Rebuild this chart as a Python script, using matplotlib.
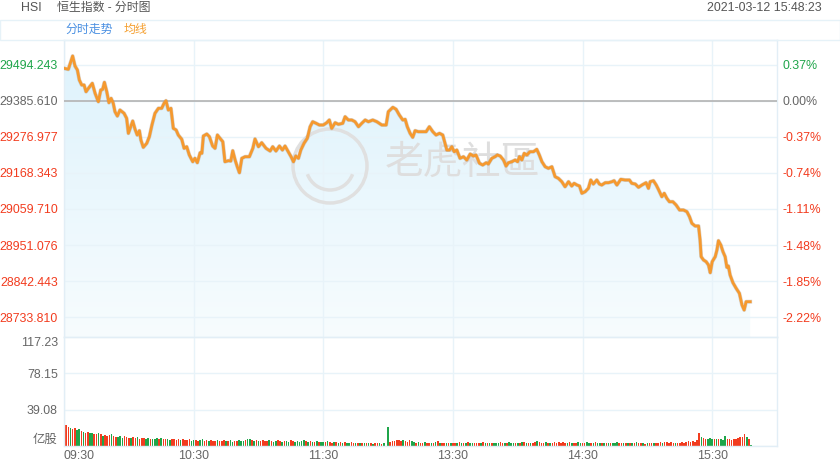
import numpy as np
import matplotlib
matplotlib.use('Agg')
import matplotlib.pyplot as plt
from matplotlib.patches import Circle, Arc, Rectangle
from matplotlib.colors import LinearSegmentedColormap

plt.rcParams['font.family'] = ['Liberation Sans', 'Noto Sans CJK SC', 'DejaVu Sans']

prev_close = 29385.610
price_ticks = [29494.243, 29385.610, 29276.977, 29168.343, 29059.710, 28951.076, 28842.443, 28733.810]
price_labels = ['29494.243', '29385.610', '29276.977', '29168.343', '29059.710', '28951.076', '28842.443', '28733.810']
pct_labels = ['0.37%', '0.00%', '-0.37%', '-0.74%', '-1.11%', '-1.48%', '-1.85%', '-2.22%']
vol_ticks = [0, 39.08, 78.15, 117.23]
vol_labels = ['亿股', '39.08', '78.15', '117.23']
time_ticks = [0, 60, 120, 180, 240, 300]
time_labels = ['09:30', '10:30', '11:30', '13:30', '14:30', '15:30']

# trading minutes since 09:30 (lunch break removed) and index level
minutes = [
    0.0, 2.0, 4.0, 5.1, 6.2, 7.1, 8.2, 9.3, 10.2, 11.3,
    13.1, 14.4, 15.9, 17.0, 17.9, 18.7, 19.8, 20.8, 21.8, 22.8,
    23.6, 24.7, 25.9, 27.8, 29.0, 29.8, 30.9, 31.8, 32.9, 33.9,
    34.9, 35.6, 36.7, 38.3, 39.5, 40.7, 42.1, 43.7, 45.2, 46.3,
    47.2, 48.3, 49.5, 50.6, 51.9, 52.9, 54.5, 55.6, 56.8, 58.0,
    59.6, 60.6, 61.7, 63.0, 63.8, 64.5, 66.1, 67.3, 68.8, 69.9,
    71.0, 72.2, 73.5, 74.5, 76.1, 77.2, 78.1, 79.2, 80.2, 81.2,
    82.3, 83.8, 85.8, 87.4, 88.4, 90.0, 91.5, 93.5, 95.4, 96.6,
    98.1, 99.7, 101.1, 102.3, 103.8, 105.1, 106.2, 107.3, 108.5, 109.6,
    111.1, 112.6, 113.9, 115.1, 116.7, 118.2, 120.0, 121.6, 122.8, 123.9,
    125.5, 127.0, 129.0, 130.1, 131.6, 133.2, 134.7, 136.3, 137.8, 139.4,
    140.9, 142.9, 144.8, 147.1, 149.1, 150.1, 152.2, 153.7, 155.2, 156.8,
    157.9, 158.9, 160.2, 161.4, 162.5, 164.0, 165.6, 167.6, 169.1, 170.7,
    172.2, 173.8, 175.3, 177.2, 178.4, 179.5, 180.6, 181.8, 183.3, 184.9,
    186.4, 188.0, 189.5, 190.7, 192.3, 193.8, 195.4, 196.4, 198.0, 199.5,
    200.6, 201.9, 203.4, 204.6, 205.7, 207.3, 208.8, 209.9, 210.8, 211.9,
    213.0, 214.2, 215.7, 217.3, 218.8, 220.0, 221.2, 222.7, 224.2, 225.8,
    227.3, 228.8, 230.4, 231.9, 233.5, 235.0, 236.1, 237.4, 238.6, 239.7,
    241.2, 242.7, 243.8, 245.0, 246.6, 247.8, 248.9, 250.5, 252.0, 253.6,
    254.6, 255.9, 257.7, 259.7, 261.7, 262.8, 264.4, 265.9, 267.5, 269.4,
    270.5, 271.3, 272.8, 274.1, 275.1, 276.7, 277.8, 279.0, 280.2, 281.8,
    283.3, 284.9, 286.7, 288.3, 289.5, 290.6, 292.1, 293.7, 294.4, 294.9,
    296.0, 297.2, 298.3, 299.1, 300.0, 301.4, 302.2, 302.9, 304.0, 305.0,
    306.0, 306.8, 307.5, 308.3, 309.6, 311.1, 312.6, 313.8, 314.8, 315.7,
    316.8, 317.6,
]
prices = [
    29484.3, 29481.3, 29521.4, 29491.2, 29479.2, 29449.0, 29433.9, 29433.9, 29413.7, 29423.9,
    29439.0, 29408.8, 29383.5, 29418.8, 29420.9, 29442.0, 29413.7, 29380.5, 29393.7, 29378.7,
    29353.3, 29340.3, 29358.4, 29348.5, 29333.4, 29288.1, 29308.0, 29325.2, 29300.2, 29283.0,
    29296.0, 29267.9, 29245.9, 29258.0, 29277.9, 29313.2, 29348.5, 29363.6, 29363.6, 29378.7,
    29386.5, 29358.4, 29363.6, 29303.2, 29298.1, 29283.0, 29270.0, 29242.9, 29247.7, 29222.7,
    29202.4, 29212.7, 29199.4, 29229.6, 29227.8, 29280.0, 29286.0, 29277.9, 29249.8, 29242.9,
    29283.0, 29273.0, 29262.8, 29202.4, 29205.5, 29204.5, 29235.6, 29207.6, 29187.3, 29169.2,
    29212.7, 29217.5, 29217.5, 29242.9, 29270.9, 29247.7, 29259.8, 29242.9, 29234.7, 29247.7,
    29234.7, 29249.8, 29237.7, 29249.8, 29232.6, 29217.5, 29202.4, 29219.6, 29212.7, 29237.7,
    29258.0, 29273.0, 29308.0, 29323.1, 29318.3, 29313.2, 29313.2, 29320.1, 29328.3, 29303.2,
    29320.1, 29315.3, 29318.3, 29338.2, 29328.3, 29328.3, 29323.1, 29308.0, 29318.3, 29328.3,
    29323.1, 29328.3, 29323.1, 29313.2, 29313.2, 29353.3, 29366.6, 29360.6, 29343.4, 29328.3,
    29330.4, 29308.0, 29288.1, 29276.1, 29296.0, 29293.0, 29293.0, 29293.0, 29308.0, 29293.0,
    29283.0, 29288.1, 29283.0, 29237.7, 29237.7, 29247.7, 29232.6, 29237.7, 29212.7, 29217.5,
    29207.6, 29225.7, 29219.6, 29222.7, 29197.6, 29192.5, 29199.4, 29195.5, 29212.7, 29217.5,
    29222.7, 29219.6, 29207.6, 29189.5, 29199.4, 29202.4, 29207.6, 29202.4, 29217.5, 29207.6,
    29227.8, 29222.7, 29232.6, 29232.6, 29239.8, 29222.7, 29202.4, 29187.3, 29182.5, 29187.3,
    29157.2, 29152.3, 29142.1, 29127.0, 29142.1, 29129.1, 29137.2, 29132.1, 29129.1, 29107.1,
    29111.9, 29122.2, 29147.2, 29135.1, 29147.2, 29135.1, 29132.1, 29139.1, 29139.1, 29142.1,
    29145.1, 29132.1, 29149.3, 29147.2, 29147.2, 29137.2, 29135.1, 29125.2, 29132.1, 29139.1,
    29122.2, 29142.1, 29145.1, 29132.1, 29119.1, 29096.8, 29107.1, 29092.0, 29081.7, 29081.7,
    29071.8, 29056.7, 29056.7, 29051.6, 29036.5, 29016.5, 29008.4, 29008.4, 28966.2, 28915.8,
    28905.8, 28900.7, 28890.7, 28867.5, 28900.7, 28915.8, 28936.0, 28964.0, 28951.1, 28930.8,
    28915.8, 28883.8, 28887.7, 28860.5, 28837.3, 28820.4, 28805.3, 28770.0, 28754.9, 28780.0,
    28780.0, 28780.0,
]

# volume per minute (亿股)
volume = [
    117.23, 22.5, 20.0, 19.5, 18.5, 19.5, 17.0, 18.0, 16.5, 15.0,
    14.5, 15.0, 14.0, 14.5, 13.0, 12.5, 13.5, 12.5, 11.0, 11.5,
    10.5, 12.0, 13.0, 11.0, 10.0, 9.5, 10.5, 9.0, 11.0, 10.0,
    8.5, 9.0, 10.0, 8.5, 9.5, 8.0, 9.0, 8.5, 7.5, 9.0,
    8.0, 7.5, 8.0, 9.0, 7.0, 8.5, 7.5, 8.0, 7.0, 6.5,
    7.5, 7.0, 6.5, 8.0, 6.0, 7.0, 6.5, 6.0, 7.5, 5.5,
    6.0, 6.5, 5.5, 6.0, 7.0, 5.5, 6.0, 5.0, 6.5, 5.5,
    5.0, 6.0, 5.5, 5.0, 6.5, 5.5, 5.0, 6.0, 4.5, 5.5,
    5.0, 6.5, 5.5, 5.0, 6.0, 7.0, 8.0, 6.5, 5.5, 6.0,
    5.5, 5.0, 6.5, 5.5, 5.0, 6.0, 5.5, 4.5, 5.0, 6.0,
    5.0, 4.5, 5.5, 5.0, 4.5, 6.0, 5.0, 4.5, 5.5, 4.0,
    5.5, 6.0, 5.0, 4.5, 5.5, 4.5, 4.0, 5.0, 4.5, 4.0,
    4.5, 4.0, 5.0, 4.0, 3.5, 4.5, 4.0, 3.5, 4.5, 3.5,
    4.0, 3.5, 3.0, 4.0, 3.5, 3.0, 3.5, 3.0, 3.5, 3.0,
    3.0, 3.5, 3.0, 2.5, 3.0, 3.5, 3.0, 2.5, 3.0, 0.5,
    20.0, 4.5, 5.0, 5.5, 6.0, 6.5, 5.5, 6.0, 5.0, 4.5,
    6.5, 5.0, 4.0, 3.5, 4.0, 3.0, 3.5, 4.5, 3.5, 3.0,
    3.5, 3.0, 4.0, 5.0, 3.5, 3.0, 3.5, 3.0, 3.5, 3.0,
    3.5, 3.0, 3.5, 4.0, 3.0, 3.5, 3.0, 4.5, 3.5, 3.0,
    3.0, 3.5, 3.0, 3.5, 4.5, 3.0, 3.5, 3.0, 3.5, 3.0,
    3.5, 3.0, 4.0, 3.5, 3.0, 3.5, 4.5, 3.5, 3.0, 3.5,
    3.0, 3.5, 4.5, 4.0, 3.5, 3.0, 3.5, 3.0, 4.0, 5.0,
    4.5, 3.5, 3.0, 4.0, 3.5, 3.0, 3.5, 4.5, 3.5, 4.0,
    3.5, 4.0, 3.5, 3.0, 4.0, 3.5, 3.0, 3.5, 4.0, 3.5,
    3.0, 3.5, 4.0, 3.5, 3.0, 3.5, 4.0, 3.5, 3.0, 3.5,
    3.0, 3.5, 3.0, 3.5, 3.0, 3.5, 4.0, 3.0, 3.5, 3.0,
    3.5, 3.0, 3.5, 3.0, 3.5, 4.0, 3.0, 3.5, 3.0, 2.5,
    3.0, 3.5, 3.0, 3.5, 3.0, 3.5, 4.0, 3.5, 4.5, 4.0,
    3.5, 4.0, 3.5, 3.0, 3.5, 3.5, 4.0, 3.5, 4.5, 5.0,
    4.0, 5.0, 4.5, 6.5, 13.5, 9.5, 8.5, 7.5, 8.0, 9.0,
    7.5, 8.0, 7.0, 8.0, 7.5, 6.5, 11.0, 7.0, 8.0, 6.5,
    8.0, 7.5, 9.0, 9.5, 10.0, 12.5, 9.5, 7.0, 1.0,
]
vol_colors = ''.join([
    "grrgrrggrg", "rrggrrgrgr", "rrgrrgggrr", "rgrrgrrrgg", "rgggrgrrgg",
    "rrrrgrrrrg", "grrggrrgrr", "rgrrrgrggr", "rgggrggrgr", "grrrrgrggr",
    "rgrggrrggg", "ggrgrgrgrg", "grgrrgrgrg", "rggrrgrgrg", "rgrgrrgrgg",
    "grrrrrrgrr", "rggrgrrgrr", "grgrgrrgrg", "rrgrgrgrgg", "rrrgrgrgrg",
    "ggrrgrgggr", "grgrgrgrrg", "rrrgrgrrrr", "rrrgrgrrgg", "rrggrgrggr",
    "grgrgggrrg", "rgrgrgrrgr", "grrgrrrgrr", "rrrgrrrrrr", "rrrrrgrrgg",
    "grgrgggrrr", "rrrrrrgrg",
])

RED = '#f23c1f'
GREEN = '#1fa54a'
GRAY = '#666666'
GRID = '#e8f3f9'
FS = 8.9

W, H = 840, 470
fig = plt.figure(figsize=(8.4, 4.7), dpi=100)


def box(x0, y0, x1, y1):
    return [x0 / W, 1 - y1 / H, (x1 - x0) / W, (y1 - y0) / H]


ax = fig.add_axes(box(64, 40, 777, 337))
axv = fig.add_axes(box(64, 337, 777, 446))

y_top, y_bot = 29569.68, 28673.46

# gradient area under the line
poly = ax.fill_between(minutes, prices, y_bot, color='none')
grad = np.linspace(0, 1, 256).reshape(-1, 1)
cmap = LinearSegmentedColormap.from_list('fill', ['#f7fcfe', '#ddf2fc'])
img = ax.imshow(grad, extent=[0, 330, y_bot, y_top], origin='lower', aspect='auto',
                cmap=cmap, zorder=1)
img.set_clip_path(poly.get_paths()[0], ax.transData)

ax.plot(minutes, prices, color='#9a8670', lw=2.8, alpha=0.35, zorder=4,
        solid_joinstyle='round')
ax.plot(minutes, prices, color='#f5992f', lw=2.0, zorder=5, solid_joinstyle='round')
ax.axhline(prev_close, color='#b3b3b3', lw=1.2, zorder=3)

ax.set_xlim(0, 330)
ax.set_ylim(y_bot, y_top)
ax.set_xticks(time_ticks)
ax.set_xticklabels([])
ax.set_yticks(price_ticks)
ax.set_yticklabels(price_labels)
ax.grid(True, color=GRID, lw=1, zorder=0)
ax.tick_params(length=0, labelsize=FS, pad=4.5)


def level_color(v):
    if abs(v - prev_close) < 0.01:
        return GRAY
    return GREEN if v > prev_close else RED


for lab, v in zip(ax.get_yticklabels(), price_ticks):
    lab.set_color(level_color(v))

axr = ax.twinx()
axr.set_ylim(y_bot, y_top)
axr.set_yticks(price_ticks)
axr.set_yticklabels(pct_labels)
axr.tick_params(length=0, labelsize=FS, pad=4)
for lab, v in zip(axr.get_yticklabels(), price_ticks):
    lab.set_color(level_color(v))
for s in axr.spines.values():
    s.set_visible(False)

for a in (ax, axv):
    for s in a.spines.values():
        s.set_color('#e2eef6')
        s.set_linewidth(1)

# watermark
ax.add_patch(Circle((3.30, 3.04), 0.37, transform=fig.dpi_scale_trans, fill=False,
                    ec='#e0e0e0', lw=2.5, zorder=2, clip_on=False))
ax.add_patch(Arc((3.30, 3.04), 0.48, 0.48, theta1=200, theta2=340,
                 transform=fig.dpi_scale_trans, ec='#e0e0e0', lw=2.5, zorder=2, clip_on=False))
ax.text(462 / W, 1 - 163 / H, '老虎社區', transform=fig.transFigure, fontsize=28,
        color='#dedede', ha='center', va='center', zorder=2,
        family=['Noto Sans CJK TC', 'DejaVu Sans'])

# volume
bar_colors = [GREEN if c == 'g' else RED for c in vol_colors]
axv.bar(np.arange(len(volume)), volume, width=0.72, color=bar_colors, zorder=2)
axv.set_xlim(0, 330)
axv.set_ylim(0, 117.23)
axv.set_yticks(vol_ticks)
axv.set_yticklabels(vol_labels)
axv.set_xticks(time_ticks)
axv.set_xticklabels(time_labels)
axv.grid(True, color=GRID, lw=1, zorder=0)
axv.tick_params(length=0, labelsize=FS, labelcolor=GRAY)
axv.tick_params(axis='y', pad=4.5)
axv.tick_params(axis='x', pad=3)
ylabs = axv.get_yticklabels()
ylabs[0].set_va('bottom')
ylabs[-1].set_va('top')
axv.get_xticklabels()[0].set_ha('left')

# header
fig.add_artist(Rectangle((0, 1 - 40 / H), 1, 20 / H, transform=fig.transFigure,
                         fill=False, ec='#e6f2f8', lw=1))
fig.text(21 / W, 1 - 8 / H, 'HSI', fontsize=FS, color='#555555', va='center')
fig.text(57 / W, 1 - 8 / H, '恒生指数 - 分时图', fontsize=8.6, color='#555555', va='center')
fig.text(822 / W, 1 - 8 / H, '2021-03-12 15:48:23', fontsize=FS, color='#555555',
         va='center', ha='right')
fig.text(65 / W, 1 - 30 / H, '分时走势', fontsize=8.6, color='#4a90e2', va='center')
fig.text(124 / W, 1 - 30 / H, '均线', fontsize=8.6, color='#f5a031', va='center')

fig.savefig('out.png', dpi=100, facecolor='white')
